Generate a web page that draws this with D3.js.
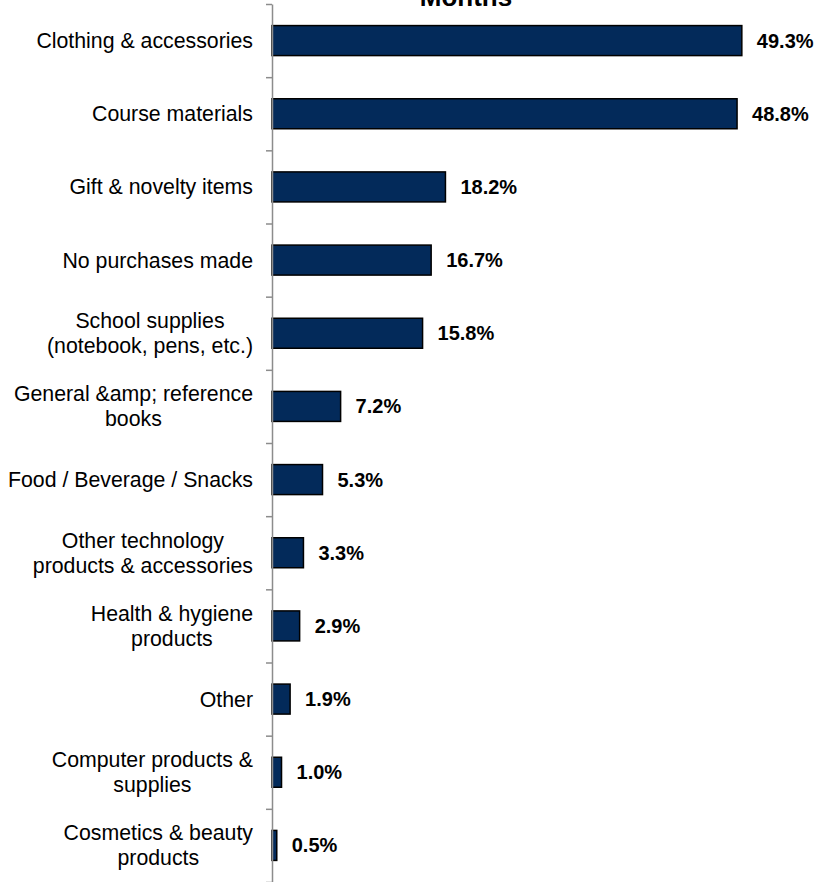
<!DOCTYPE html>
<html>
<head>
<meta charset="utf-8">
<script src="https://cdn.jsdelivr.net/npm/d3@7"></script>
<style>
  body { margin: 0; background: #fff; }
  text { font-family: "Liberation Sans", Arial, sans-serif; }
</style>
</head>
<body>
<div id="chart"></div>
<script>
// categories, one entry per line of the label
var categorias = [
    ["Clothing & accessories"],
    ["Course materials"],
    ["Gift & novelty items"],
    ["No purchases made"],
    ["School supplies", "(notebook, pens, etc.)"],
    ["General &amp; reference", "books"],
    ["Food / Beverage / Snacks"],
    ["Other technology", "products & accessories"],
    ["Health & hygiene", "products"],
    ["Other"],
    ["Computer products &", "supplies"],
    ["Cosmetics & beauty", "products"]
];
var valores = [49.3, 48.8, 18.2, 16.7, 15.8, 7.2, 5.3, 3.3, 2.9, 1.9, 1.0, 0.5];
var titulo = "Months";

var width = 820, height = 882;
var eixoX = 272, topo = 4, base = 882;

var svg = d3.select('#chart').append('svg')
    .attr('width', width).attr('height', height);

var idx = d3.range(valores.length);
var ys = d3.scaleBand().domain(idx).range([topo, base])
    .paddingInner(0.59).paddingOuter(0.295);
var xs = d3.scaleLinear().domain([0, 50]).range([eixoX, eixoX + 50 * 9.53]);

// titulo (cortado no topo, como no original)
svg.append('text')
    .attr('x', 466).attr('y', 6)
    .attr('text-anchor', 'middle')
    .style('font-size', '26px').style('font-weight', 'bold')
    .text(titulo);

// barras
svg.selectAll('rect.bar').data(idx).enter().append('rect')
    .attr('class', 'bar')
    .attr('x', xs(0))
    .attr('y', function(i){ return ys(i); })
    .attr('width', function(i){ return xs(valores[i]) - xs(0); })
    .attr('height', ys.bandwidth())
    .attr('fill', '#032a5a')
    .attr('stroke', '#000')
    .attr('stroke-width', 1.5);

// eixo vertical com marcas entre categorias
var bordas = d3.scaleLinear().domain([0, valores.length]).range([topo, base]);
var eixo = svg.append('g')
    .attr('transform', 'translate(' + eixoX + ',0)')
    .call(d3.axisLeft(bordas).tickValues(d3.range(valores.length + 1))
        .tickFormat('').tickSize(6).tickSizeOuter(0));
eixo.select('.domain').attr('stroke', '#8c8c8c').attr('stroke-width', 1.5);
eixo.selectAll('.tick line').attr('stroke', '#8c8c8c').attr('stroke-width', 1.5);

// rotulos das categorias
var lineH = 25;
idx.forEach(function(i){
    var linhas = categorias[i];
    var cy = ys(i) + ys.bandwidth() / 2;
    var g = svg.append('g');
    var ts = linhas.map(function(l, k){
        return g.append('text')
            .attr('y', cy + (k - (linhas.length - 1) / 2) * lineH)
            .attr('dy', '0.35em')
            .attr('text-anchor', 'middle')
            .style('font-size', '21.3px')
            .text(l);
    });
    var maxW = d3.max(ts, function(t){ return t.node().getComputedTextLength(); });
    ts.forEach(function(t){ t.attr('x', 253 - maxW / 2); });
});

// valores
svg.selectAll('text.val').data(idx).enter().append('text')
    .attr('class', 'val')
    .attr('x', function(i){ return xs(valores[i]) + 15; })
    .attr('y', function(i){ return ys(i) + ys.bandwidth() / 2; })
    .attr('dy', '0.35em')
    .style('font-size', '20px').style('font-weight', 'bold')
    .text(function(i){ return valores[i].toFixed(1) + '%'; });
</script>
</body>
</html>
